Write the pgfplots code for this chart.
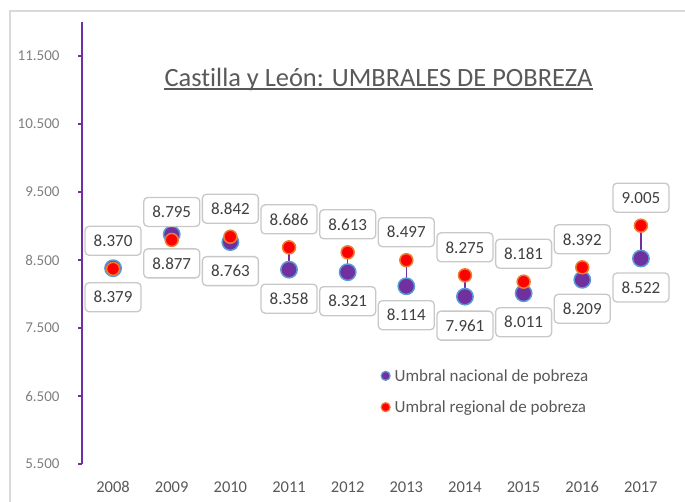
\documentclass[border=0pt]{standalone}
\usepackage{pgfplots}
\pgfplotsset{compat=1.18}
\usepackage{fontspec}
\setmainfont{Carlito}[Ligatures={NoCommon}]
\definecolor{umpurple}{HTML}{7030A0}
\definecolor{umblue}{HTML}{5B9BD5}
\definecolor{umred}{HTML}{FF0000}
\definecolor{umorange}{HTML}{ED7D31}
\definecolor{titlegrey}{HTML}{595959}
\definecolor{tickgrey}{HTML}{7F7F7F}
\definecolor{yeargrey}{HTML}{595959}
\definecolor{labelgrey}{HTML}{404040}
\definecolor{boxgrey}{HTML}{C8C8C8}
\definecolor{bordergrey}{HTML}{D9D9D9}
\pgfplotstableread{
x y
2008 8379
2009 8877
2010 8763
2011 8358
2012 8321
2013 8114
2014 7961
2015 8011
2016 8209
2017 8522
}\nacional
\pgfplotstableread{
x y
2008 8370
2009 8795
2010 8842
2011 8686
2012 8613
2013 8497
2014 8275
2015 8181
2016 8392
2017 9005
}\regional
\pgfplotstableread{
x y
2008 8379
2008 8370
2008 nan
2009 8877
2009 8795
2009 nan
2010 8763
2010 8842
2010 nan
2011 8358
2011 8686
2011 nan
2012 8321
2012 8613
2012 nan
2013 8114
2013 8497
2013 nan
2014 7961
2014 8275
2014 nan
2015 8011
2015 8181
2015 nan
2016 8209
2016 8392
2016 nan
2017 8522
2017 9005
2017 nan
}\enlaces
\tikzset{
  datalabel/.style={draw=boxgrey, line width=1.3pt, rounded corners=4pt, fill=white,
    minimum width=56pt, minimum height=29pt, inner sep=0pt, text=labelgrey,
    font=\fontsize{17}{20}\selectfont, anchor=center}
}
\begin{document}
\begin{tikzpicture}
\useasboundingbox (0pt,0pt) rectangle (685pt,502pt);
\draw[bordergrey, line width=1.3pt] (10pt,-20pt) -- (10pt,491pt) -- (720pt,491pt);
\node[anchor=base, inner sep=0pt, text=titlegrey, font=\fontsize{26.4}{30}\selectfont] (t) at (378.5pt,415.5pt) {Castilla y León: UMBRALES DE POBREZA};
\draw[titlegrey, line width=1.6pt] ([yshift=-2.5pt]t.base west) -- ([yshift=-2.5pt]t.base east);
\begin{axis}[
  at={(82pt,38pt)}, anchor=south west, scale only axis,
  width=590pt, height=442pt,
  xmin=2007.47, xmax=2017.53, ymin=5500, ymax=12000,
  axis y line*=left, axis x line*=bottom,
  x axis line style={draw=none},
  y axis line style={umpurple, line width=1.2pt, -},
  ytick={5500,6500,...,11500},
  scaled y ticks=false,
  ytick style={umpurple, line width=1.2pt},
  tick align=outside, major tick length=4pt,
  xtick={2008,...,2017}, xtick style={draw=none},
  /pgf/number format/assume math mode=true,
  yticklabel style={font=\fontsize{15}{18}\selectfont, text=tickgrey, xshift=-15pt,
    /pgf/number format/fixed, /pgf/number format/precision=0, /pgf/number format/1000 sep={.}},
  xticklabel style={font=\fontsize{16.5}{20}\selectfont, text=yeargrey, yshift=-10pt,
    /pgf/number format/1000 sep={}},
  clip=false,
  legend style={draw=none, fill=none, inner sep=0pt, outer sep=0pt,
    at={(0.506,0.164)}, anchor=west, row sep=16pt, column sep=3pt,
    font=\fontsize{17}{20}\selectfont, text=titlegrey,
    nodes={inner sep=1pt}},
  legend cell align=left,
]
\addplot[umpurple, line width=1.4pt, unbounded coords=jump, forget plot] table[x=x,y=y] {\enlaces};
\addplot[only marks, mark=*, mark size=8.2pt,
  mark options={fill=umpurple, draw=umblue, line width=1.5pt},
  point meta=explicit,
  nodes near coords={\pgfmathprintnumber[fixed,precision=0,1000 sep={.},assume math mode=true]{\pgfplotspointmeta}},
  nodes near coords style={datalabel, yshift=-29pt},
  legend image code/.code={\draw[fill=umpurple, draw=umblue, line width=1.2pt] (4.5pt,0pt) circle (4.5pt);}
] table[x=x,y=y,meta=y] {\nacional};
\addlegendentry{Umbral nacional de pobreza}
\addplot[only marks, mark=*, mark size=6.5pt,
  mark options={fill=umred, draw=umorange, line width=1.5pt},
  point meta=explicit,
  nodes near coords={\pgfmathprintnumber[fixed,precision=0,1000 sep={.},assume math mode=true]{\pgfplotspointmeta}},
  nodes near coords style={datalabel, yshift=28pt},
  legend image code/.code={\draw[fill=umred, draw=umorange, line width=1.2pt] (4.5pt,0pt) circle (4.5pt);}
] table[x=x,y=y,meta=y] {\regional};
\addlegendentry{Umbral regional de pobreza}
\end{axis}
\end{tikzpicture}
\end{document}
